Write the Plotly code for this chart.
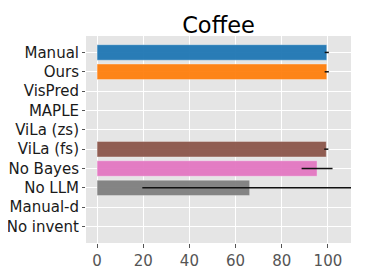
import plotly.graph_objects as go

categories = ["Manual", "Ours", "VisPred", "MAPLE", "ViLa (zs)", "ViLa (fs)",
              "No Bayes", "No LLM", "Manual-d", "No invent"]
values = [99.5, 99.5, 0, 0, 0, 99.3, 95.3, 66.1, 0, 0]
errors = [0.9, 0.9, 0, 0, 0, 0.9, 6.7, 46.5, 0, 0]
colors = ["#1f77b4", "#ff7f0e", "#2ca02c", "#d62728", "#9467bd", "#8c564b",
          "#e377c2", "#7f7f7f", "#bcbd22", "#17becf"]
x_ticks = [0, 20, 40, 60, 80, 100]
title = "Coffee"

idx = list(range(len(categories)))

# page body has an 8px default margin, so the figure is shifted by 8px
W, H = 359, 272

fig = go.Figure()
fig.add_trace(go.Bar(
    y=idx, x=values, orientation="h", width=0.8,
    marker=dict(color=colors, opacity=0.95,
                line=dict(color="rgba(255,255,255,0.35)", width=[1 if v > 0 else 0 for v in values])),
    error_x=dict(type="data", array=errors, visible=True, color="#111111",
                 thickness=1.5, width=0),
    showlegend=False,
))

fig.update_layout(
    width=W, height=H,
    margin=dict(l=78, r=16, t=28, b=37),
    paper_bgcolor="white", plot_bgcolor="#e5e5e5",
    font=dict(family="DejaVu Sans", size=15, color="#555555"),
    title=dict(text=title, x=(78 + 343) / 2 / W, xanchor="center",
               y=1 - 17 / H, yanchor="middle",
               font=dict(size=22.5, color="black")),
)
fig.update_xaxes(range=[-4.8, 110], tickvals=x_ticks, showgrid=True,
                 gridcolor="white", gridwidth=1, zeroline=False, automargin=False,
                 ticks="outside", ticklen=4, tickcolor="#555555",
                 tickfont=dict(size=15, color="#555555"), showline=False)
fig.update_yaxes(range=[9.85, -0.85], tickvals=idx, ticktext=categories,
                 showgrid=True, gridcolor="white", gridwidth=1, zeroline=False,
                 automargin=False,
                 ticks="outside", ticklen=3, tickcolor="#555555",
                 tickfont=dict(size=15, color="#1a1a1a"), showline=False)

fig.write_html("out.html")
